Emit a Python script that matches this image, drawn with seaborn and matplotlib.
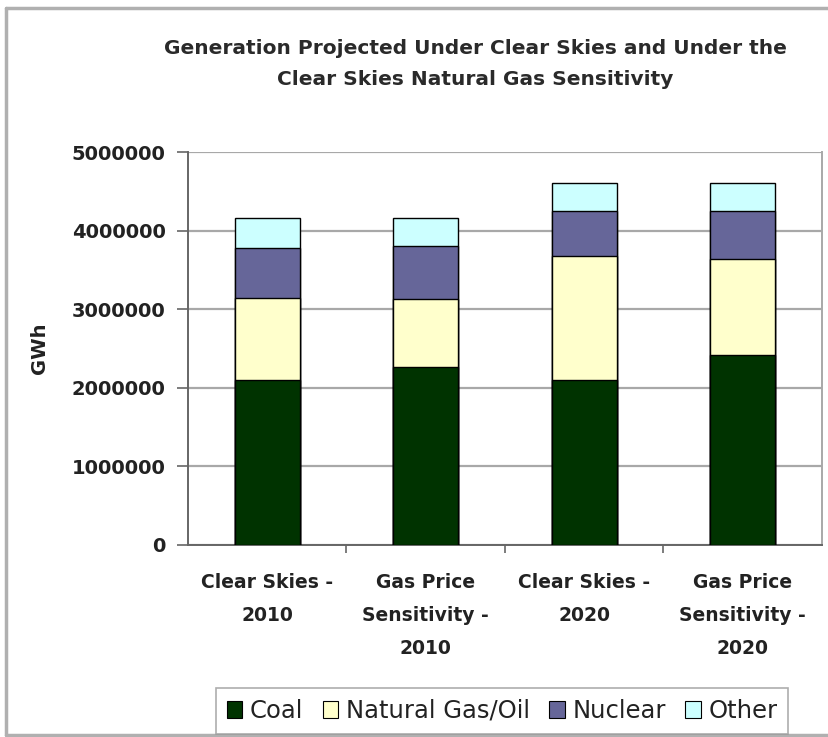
import matplotlib
matplotlib.use("Agg")
import matplotlib.pyplot as plt
import numpy as np
import pandas as pd
import seaborn as sns
from matplotlib.patches import Patch
from matplotlib.lines import Line2D

categories = ["Clear Skies -\n2010", "Gas Price\nSensitivity -\n2010",
              "Clear Skies -\n2020", "Gas Price\nSensitivity -\n2020"]
series_names = ["Coal", "Natural Gas/Oil", "Nuclear", "Other"]
coal = [2100000, 2270000, 2100000, 2415000]
natgas = [1040000, 860000, 1580000, 1225000]
nuclear = [640000, 670000, 570000, 610000]
other = [380000, 360000, 360000, 360000]
colors = ["#003300", "#FFFFCC", "#666699", "#CCFFFF"]
yticks = [0, 1000000, 2000000, 3000000, 4000000, 5000000]

sns.set_style("white")
plt.rcParams["font.family"] = ["DejaVu Sans"]

fig = plt.figure(figsize=(8.29, 7.37), dpi=100)
ax = fig.add_axes([188/829, 1-545/737, (822-188)/829, (545-152)/737])

layers = [coal, natgas, nuclear, other]
cum = np.cumsum(np.array(layers), axis=0)
# draw from top of stack downward so lower layers overlay
for i in range(len(layers) - 1, -1, -1):
    df = pd.DataFrame({"cat": categories, "val": cum[i]})
    sns.barplot(data=df, x="cat", y="val", color=colors[i], width=0.41,
                edgecolor="black", linewidth=1.0, saturation=1, ax=ax, zorder=3)

ax.set_ylim(0, 5000000)
ax.set_xlim(-0.5, 3.5)
ax.set_yticks(yticks)
ax.set_yticklabels([str(v) for v in yticks], fontsize=14, fontweight="bold", color="#222222")
ax.yaxis.grid(True, color="#a8a8a8", linewidth=1.6, zorder=0)
ax.set_axisbelow(True)
ax.set_xlabel("")
ax.set_ylabel("")

ax.tick_params(axis="y", which="major", direction="out", length=8, width=1.2,
               color="#666666", pad=8, left=True)
ax.set_xticks(range(len(categories)))
ax.set_xticklabels(categories, fontsize=13.5, fontweight="bold", color="#222222",
                   linespacing=1.95)
ax.tick_params(axis="x", which="major", length=0, pad=20)
ax.set_xticks([0.5, 1.5, 2.5], minor=True)
ax.tick_params(axis="x", which="minor", direction="out", length=6, width=1.2,
               color="#666666", bottom=True)

for s in ["left", "bottom"]:
    ax.spines[s].set_color("#666666")
    ax.spines[s].set_linewidth(1.4)
ax.spines["top"].set_visible(False)
ax.spines["right"].set_color("#a8a8a8")
ax.spines["right"].set_linewidth(1.4)

fig.text(475/829, 1-64/737,
         "Generation Projected Under Clear Skies and Under the\nClear Skies Natural Gas Sensitivity",
         ha="center", va="center", fontsize=14.5, fontweight="bold", color="#2a2a2a",
         linespacing=1.85)
fig.text(40/829, 1-348/737, "GWh", rotation=90, ha="center", va="center",
         fontsize=14, fontweight="bold", color="#222222")

handles = [Patch(facecolor=c, edgecolor="black", linewidth=0.8) for c in colors]
leg = fig.legend(handles, series_names, loc="center", bbox_to_anchor=(502/829, 1-711/737),
                 ncol=4, fontsize=17.5, frameon=True, fancybox=False, edgecolor="#999999",
                 handlelength=0.65, handleheight=0.65, handletextpad=0.3,
                 columnspacing=0.8, borderpad=0.45, borderaxespad=0)
leg.get_frame().set_linewidth(1.2)
for t in leg.get_texts():
    t.set_color("#222222")

# outer chart border
fig.add_artist(Line2D([6/829, 6/829], [1-8/737, 1-735/737], transform=fig.transFigure,
                      color="#b0b0b0", linewidth=2.5))
fig.add_artist(Line2D([6/829, 1.0], [1-8/737, 1-8/737], transform=fig.transFigure,
                      color="#b0b0b0", linewidth=2.5))
fig.add_artist(Line2D([6/829, 1.0], [1-735/737, 1-735/737], transform=fig.transFigure,
                      color="#b0b0b0", linewidth=2.5))

fig.savefig("out.png", dpi=100, facecolor="white")
